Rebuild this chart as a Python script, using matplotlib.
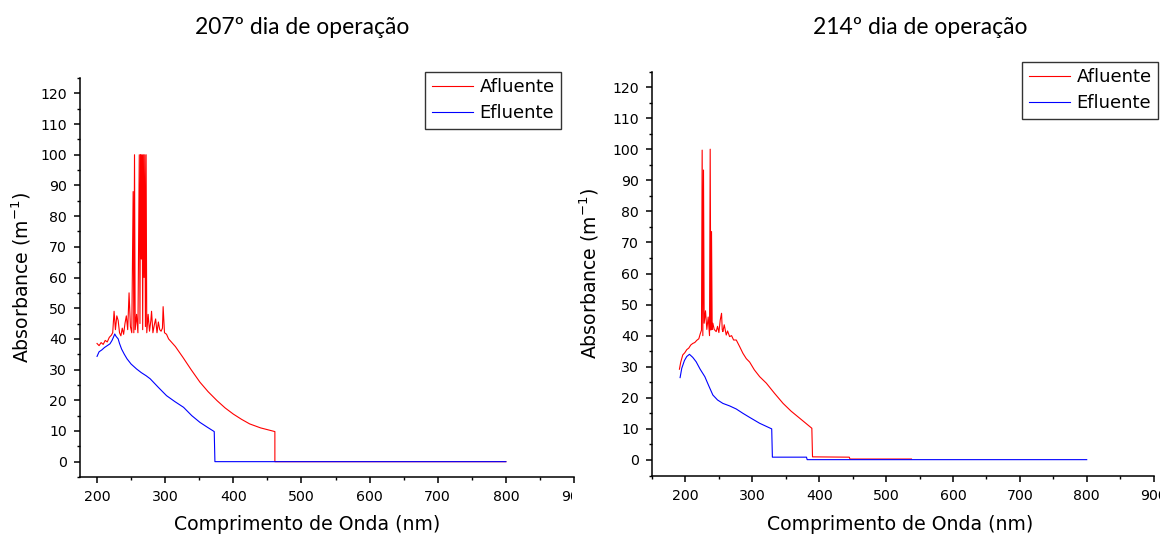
import matplotlib.pyplot as plt
from matplotlib.ticker import MultipleLocator
from matplotlib.transforms import Bbox, TransformedBbox

# 207º dia de operação
wl_207_afl = [200, 203, 206, 209, 212, 215, 218, 221, 223, 225, 227, 229, 231, 233, 235, 237, 239, 241, 243, 245,
              247, 249, 251, 253, 254, 255, 256, 258, 260, 262, 263, 264, 265, 266, 267, 268, 269, 270, 271, 272,
              273, 275, 277, 279, 280, 282, 284, 286, 288, 290, 292, 294, 296, 297, 299, 302, 305, 315, 326, 338,
              351, 363, 376, 388, 400, 412, 424, 440, 461, 461, 800]
abs_207_afl = [38.5, 37.8, 38.8, 38.2, 39.5, 39.0, 40.5, 41.2, 42.0, 49.0, 43.0, 47.5, 46.0, 42.0, 41.0, 43.5, 41.5, 45.0, 47.5, 43.0,
               55.0, 44.0, 42.0, 88.0, 42.0, 100, 43.0, 48.0, 42.0, 100, 45.0, 100, 66.0, 100, 43.0, 100, 60.0, 100, 44.0, 100,
               42.0, 48.0, 42.5, 46.0, 49.0, 42.0, 44.5, 46.5, 42.0, 45.5, 43.0, 42.5, 43.5, 50.5, 42.0, 41.5, 40.0, 37.5, 34.0, 30.0,
               25.9, 22.8, 19.9, 17.5, 15.5, 13.8, 12.3, 11.0, 9.8, 0.0, 0.0]
wl_207_efl = [200, 203, 207, 211, 215, 219, 222, 224, 226, 228, 231, 233, 236, 240, 244, 250, 258, 265, 272, 278,
              290, 302, 314, 327, 339, 351, 362, 372, 373, 800]
abs_207_efl = [34.3, 35.8, 36.4, 37.2, 37.8, 38.4, 39.5, 40.5, 41.6, 40.8, 40.0, 38.5, 36.7, 35.0, 33.5, 31.8, 30.2, 29.0, 28.0, 27.0,
               24.2, 21.5, 19.6, 17.7, 15.0, 12.8, 11.2, 9.8, 0.0, 0.0]

# 214º dia de operação
wl_214_afl = [191, 193, 196, 199, 202, 205, 208, 211, 214, 217, 220, 222, 224, 225, 226, 227, 228, 230, 232, 234,
              236, 237, 238, 239, 240, 241, 243, 246, 248, 250, 252, 254, 255, 256, 258, 261, 263, 266, 269, 272,
              276, 281, 286, 291, 296, 303, 311, 321, 333, 346, 358, 371, 380, 389, 390, 445, 446, 538]
abs_214_afl = [29.2, 31.5, 33.8, 34.5, 35.5, 36.0, 37.0, 37.5, 37.8, 38.5, 39.0, 40.5, 41.8, 99.7, 40.0, 93.3, 44.0, 48.0, 42.0, 46.0,
               40.0, 100, 41.8, 73.5, 42.0, 44.0, 42.0, 41.3, 43.0, 41.0, 45.0, 47.2, 42.0, 41.3, 43.5, 40.2, 41.5, 39.7, 40.0, 38.6,
               38.6, 36.5, 34.3, 32.6, 31.5, 29.0, 26.8, 24.7, 21.5, 18.2, 15.7, 13.4, 11.8, 10.2, 1.0, 0.9, 0.3, 0.3]
wl_214_efl = [192, 194.5, 198.5, 202, 206, 211, 216, 222, 229, 235, 241, 248, 256, 266, 276, 286, 296, 311, 327, 329,
              330, 381, 382, 800]
abs_214_efl = [26.5, 29.5, 32.0, 33.3, 34.0, 33.0, 31.6, 29.2, 26.8, 23.8, 20.9, 19.3, 18.2, 17.4, 16.4, 15.0, 13.7, 11.8, 10.2, 10.0,
               0.9, 0.9, 0.1, 0.1]

series_names = ["Afluente", "Efluente"]
titulos = ["207º dia de operação", "214º dia de operação"]

W, H = 1168, 538
fig = plt.figure(figsize=(W / 100, H / 100), dpi=100)


def px_box(left, top, right, bottom):
    return [left / W, 1 - bottom / H, (right - left) / W, (bottom - top) / H]


def monta_eixo(ax, xmin):
    ax.set_xlim(xmin, 900)
    ax.set_ylim(-5, 125)
    ax.xaxis.set_major_locator(MultipleLocator(100))
    ax.xaxis.set_minor_locator(MultipleLocator(50))
    ax.yaxis.set_major_locator(MultipleLocator(10))
    ax.yaxis.set_minor_locator(MultipleLocator(5))
    ax.spines["top"].set_visible(False)
    ax.spines["right"].set_visible(False)
    for s in ["left", "bottom"]:
        ax.spines[s].set_linewidth(1.1)
    ax.tick_params(which="major", direction="out", length=4.5, width=1.1, labelsize=10.2, pad=5, colors="black")
    ax.tick_params(which="minor", direction="out", length=2.5, width=1.0)
    ax.set_xlabel("Comprimento de Onda (nm)", fontsize=13.6)
    ax.set_ylabel("Absorbance (m$^{-1}$)", fontsize=13.6)


def legenda(ax, linhas, canto):
    leg = ax.legend(linhas, series_names, loc="upper right",
                    bbox_to_anchor=(canto[0] / W, 1 - canto[1] / H), bbox_transform=fig.transFigure,
                    fontsize=13, fancybox=False, framealpha=1, edgecolor="#333333",
                    handlelength=2.3, handletextpad=0.35, borderpad=0.35, labelspacing=0.45, borderaxespad=0)
    leg.get_frame().set_linewidth(1.0)
    return leg


# painel esquerdo
ax1 = fig.add_axes(px_box(80, 78, 574, 477))
l1, = ax1.plot(wl_207_afl, abs_207_afl, color="#ff0000", lw=0.8)
l2, = ax1.plot(wl_207_efl, abs_207_efl, color="#0000ff", lw=0.8)
monta_eixo(ax1, 175)
ax1.xaxis.set_label_coords((307 - 80) / 494, (477 - 515) / 399)
ax1.yaxis.set_label_coords((33 - 80) / 494, 0.5)
legenda(ax1, [l1, l2], (561, 72))

# painel direito
ax2 = fig.add_axes(px_box(652, 71.5, 1153.6, 475.5))
l3, = ax2.plot(wl_214_afl, abs_214_afl, color="#ff0000", lw=0.8)
l4, = ax2.plot(wl_214_efl, abs_214_efl, color="#0000ff", lw=0.8)
monta_eixo(ax2, 150)
ax2.xaxis.set_label_coords((900 - 652) / 501.6, (475.5 - 515) / 404)
ax2.yaxis.set_label_coords((601 - 652) / 501.6, 0.5)
legenda(ax2, [l3, l4], (1158, 62))

# cada painel é cortado na borda direita, junto com o rótulo 900
fig.canvas.draw()
for ax, xcorte in [(ax1, 572), (ax2, 1160)]:
    corte = TransformedBbox(Bbox([[0, 0], [xcorte / W, 1]]), fig.transFigure)
    for lab in ax.get_xticklabels():
        lab.set_clip_box(corte)
        lab.set_clip_on(True)

fig.text(302 / W, 1 - 28 / H, titulos[0], fontsize=16.5, family="Lato", ha="center", va="center")
fig.text(920 / W, 1 - 28 / H, titulos[1], fontsize=16.5, family="Lato", ha="center", va="center")

fig.savefig("out.png", dpi=100)
